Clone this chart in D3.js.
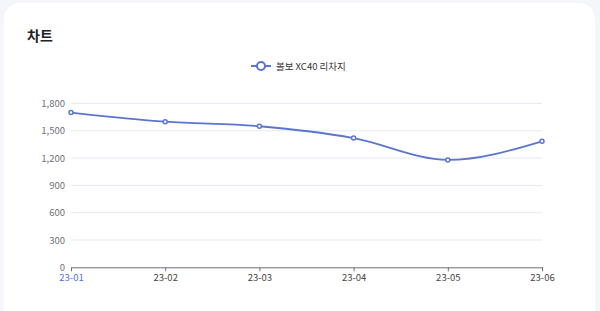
<!DOCTYPE html>
<html>
<head>
<meta charset="utf-8">
<script src="https://cdn.jsdelivr.net/npm/d3@7"></script>
<style>
  html, body { margin: 0; padding: 0; background: #f4f6fa; }
  svg { display: block; font-family: "Noto Sans CJK KR", "Noto Sans", sans-serif; }
</style>
</head>
<body>
<svg id="chart"></svg>
<script>
const width = 600;
const height = 311;

const months = ['23-01', '23-02', '23-03', '23-04', '23-05', '23-06'];
const values = [1700, 1600, 1550, 1420, 1180, 1385];
const yTicks = [0, 300, 600, 900, 1200, 1500, 1800];
const seriesName = '볼보 XC40 리차지';

const lineColor = '#5b75d0';
const labelColor = '#6e7079';

const svg = d3.select('#chart')
  .attr('width', width)
  .attr('height', height);

// card
svg.append('rect')
  .attr('x', 4).attr('y', 3)
  .attr('width', 591).attr('height', 330)
  .attr('rx', 16)
  .attr('fill', '#ffffff');

svg.append('text')
  .attr('x', 27).attr('y', 41)
  .attr('font-size', 14)
  .attr('font-weight', 'bold')
  .attr('fill', '#222')
  .text('차트');

const x = d3.scalePoint().domain(months).range([71, 542]);
const y = d3.scaleLinear().domain([0, 1800]).range([267.3, 103.5]);

// grid
svg.append('g').selectAll('line')
  .data(yTicks.slice(1))
  .enter().append('line')
  .attr('x1', 71).attr('x2', 542)
  .attr('y1', d => y(d)).attr('y2', d => y(d))
  .attr('stroke', '#e6e9f4')
  .attr('stroke-width', 1);

// y labels
svg.append('g').selectAll('text')
  .data(yTicks)
  .enter().append('text')
  .attr('x', 65)
  .attr('y', d => y(d) + 3.5)
  .attr('text-anchor', 'end')
  .attr('font-size', 9.5)
  .attr('fill', labelColor)
  .text(d => d3.format(',')(d));

// x axis
const xAxis = svg.append('g')
  .attr('transform', `translate(0, ${y(0)})`)
  .call(d3.axisBottom(x).tickSize(4).tickSizeOuter(0).tickPadding(3));
xAxis.select('.domain').attr('stroke', '#6e7079').attr('stroke-width', 1);
xAxis.selectAll('.tick line').attr('stroke', '#6e7079');
xAxis.selectAll('.tick text')
  .attr('font-size', 9.5)
  .attr('font-family', '"Noto Sans CJK KR", "Noto Sans", sans-serif')
  .attr('fill', (d, i) => i === 0 ? '#4e6ef2' : '#444');

// line
const line = d3.line()
  .x((d, i) => x(months[i]))
  .y(d => y(d))
  .curve(d3.curveMonotoneX);

svg.append('path')
  .datum(values)
  .attr('d', line)
  .attr('fill', 'none')
  .attr('stroke', lineColor)
  .attr('stroke-width', 1.8);

svg.append('g').selectAll('circle')
  .data(values)
  .enter().append('circle')
  .attr('cx', (d, i) => x(months[i]))
  .attr('cy', d => y(d))
  .attr('r', 2)
  .attr('fill', '#fff')
  .attr('stroke', lineColor)
  .attr('stroke-width', 1.5);

// legend
const legend = svg.append('g').attr('transform', 'translate(251, 66)');
legend.append('line')
  .attr('x1', 0).attr('x2', 20)
  .attr('stroke', lineColor).attr('stroke-width', 2);
legend.append('circle')
  .attr('cx', 10).attr('r', 4)
  .attr('fill', '#fff')
  .attr('stroke', lineColor).attr('stroke-width', 2);
legend.append('text')
  .attr('x', 25).attr('y', 3.5)
  .attr('font-size', 9.5)
  .attr('fill', '#333')
  .text(seriesName);
</script>
</body>
</html>
